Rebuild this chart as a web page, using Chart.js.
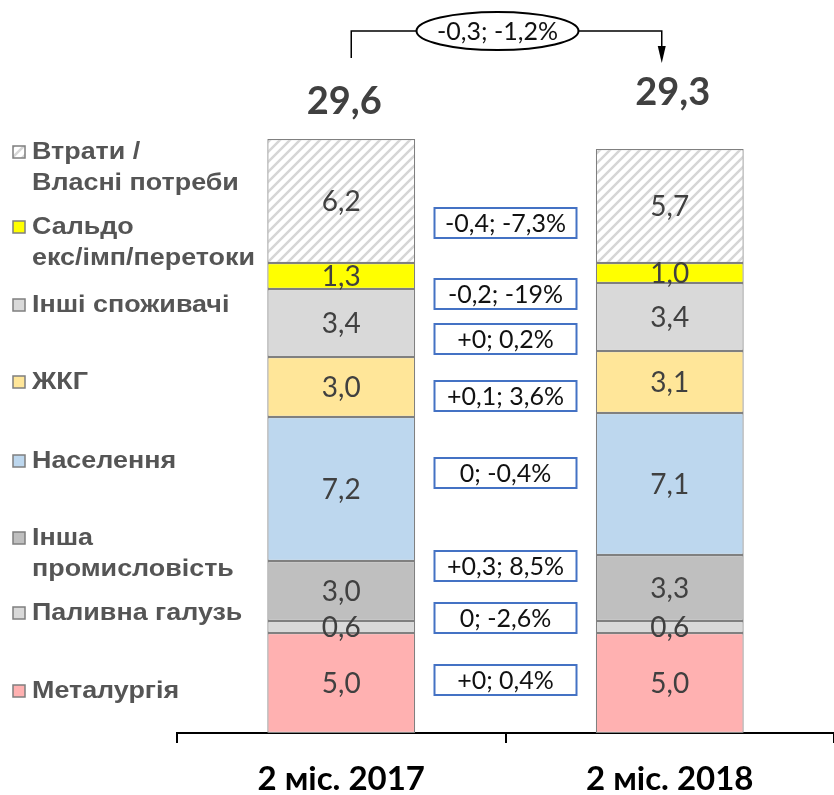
<!DOCTYPE html>
<html>
<head>
<meta charset="utf-8">
<script src="https://cdn.jsdelivr.net/npm/chart.js@4.4.0/dist/chart.umd.min.js"></script>
<style>
    html, body { margin: 0; padding: 0; background: #fff; }
</style>
</head>
<body>
<canvas id="balance" width="834" height="795"></canvas>
<script>
// періоди
const periods = ['2 міс. 2017', '2 міс. 2018'];

// споживання по секторах, млрд кВт·год
const metallurgy = [5.0, 5.0];
const fuelIndustry = [0.6, 0.6];
const otherIndustry = [3.0, 3.3];
const population = [7.2, 7.1];
const housing = [3.0, 3.1];
const otherConsumers = [3.4, 3.4];
const exportSaldo = [1.3, 1.0];
const losses = [6.2, 5.7];

const totals = [29.6, 29.3];
const totalChange = '-0,3; -1,2%';

// зміни по секторах (знизу вгору)
const changes = ['+0; 0,4%', '0; -2,6%', '+0,3; 8,5%', '0; -0,4%', '+0,1; 3,6%', '+0; 0,2%', '-0,2; -19%', '-0,4; -7,3%'];

// підписи легенди (знизу вгору)
const legendLines = [
    ['Металургія'],
    ['Паливна галузь'],
    ['Інша', 'промисловість'],
    ['Населення'],
    ['ЖКГ'],
    ['Інші споживачі'],
    ['Сальдо', 'екс/імп/перетоки'],
    ['Втрати /', 'Власні потреби']
];

// розміщення (пікселі)
const legendY = [691, 613, 538, 461, 382, 305, 227, 152];
const boxY = [680, 618, 566, 473, 396, 339, 294, 223];
const totalsY = [102, 93];

function hatch() {
    const c = document.createElement('canvas');
    c.width = 10; c.height = 10;
    const g = c.getContext('2d');
    g.fillStyle = '#fff';
    g.fillRect(0, 0, 10, 10);
    g.strokeStyle = '#d6d6d6';
    g.lineWidth = 2.5;
    g.beginPath();
    g.moveTo(-1, 11); g.lineTo(11, -1);
    g.moveTo(-6, 6); g.lineTo(6, -6);
    g.moveTo(4, 16); g.lineTo(16, 4);
    g.stroke();
    return g.createPattern(c, 'repeat');
}

const fmt = v => v.toFixed(1).replace('.', ',');

const series = [
    { label: 'Металургія', data: metallurgy, color: '#ffb1b1' },
    { label: 'Паливна галузь', data: fuelIndustry, color: '#d9d9d9' },
    { label: 'Інша промисловість', data: otherIndustry, color: '#bfbfbf' },
    { label: 'Населення', data: population, color: '#bdd7ee' },
    { label: 'ЖКГ', data: housing, color: '#ffe699' },
    { label: 'Інші споживачі', data: otherConsumers, color: '#d9d9d9' },
    { label: 'Сальдо екс/імп/перетоки', data: exportSaldo, color: '#ffff00' },
    { label: 'Втрати / Власні потреби', data: losses, color: hatch() }
];

// підписи значень, легенда, рамки змін, підсумки
const overlay = {
    id: 'overlay',
    afterDatasetsDraw(chart) {
        const ctx = chart.ctx;
        ctx.save();

        // значення в сегментах
        ctx.font = '28px Lato';
        ctx.fillStyle = '#404040';
        ctx.textAlign = 'center';
        ctx.textBaseline = 'middle';
        chart.data.datasets.forEach((ds, i) => {
            chart.getDatasetMeta(i).data.forEach((bar, j) => {
                ctx.fillText(fmt(ds.data[j]), bar.x, (bar.y + bar.base) / 2 + 1);
            });
        });

        // легенда
        series.forEach((s, i) => {
            const y = legendY[i];
            ctx.fillStyle = s.color;
            ctx.fillRect(13, y - 6, 12, 12);
            ctx.strokeStyle = '#7f7f7f';
            ctx.lineWidth = 1.5;
            ctx.strokeRect(13, y - 6, 12, 12);
            ctx.font = 'bold 24px "Liberation Sans"';
            ctx.fillStyle = '#555';
            ctx.textAlign = 'left';
            legendLines[i].forEach((line, k) => {
                ctx.save();
                ctx.translate(32, y + k * 31);
                ctx.scale(1.12, 1);
                ctx.fillText(line, 0, 0);
                ctx.restore();
            });
        });

        // рамки змін
        const midX = (chart.getDatasetMeta(0).data[0].x + chart.getDatasetMeta(0).data[1].x) / 2;
        ctx.font = '25px Lato';
        ctx.textAlign = 'center';
        changes.forEach((t, i) => {
            ctx.fillStyle = '#fff';
            ctx.fillRect(midX - 71, boxY[i] - 15, 142, 30);
            ctx.strokeStyle = '#4472c4';
            ctx.lineWidth = 2;
            ctx.strokeRect(midX - 71, boxY[i] - 15, 142, 30);
            ctx.fillStyle = '#111';
            ctx.fillText(t, midX, boxY[i] + 1);
        });

        // підсумки
        const bars = chart.getDatasetMeta(0).data;
        ctx.font = 'bold 38px Lato';
        ctx.fillStyle = '#404040';
        totals.forEach((t, j) => {
            ctx.fillText(fmt(t), bars[j].x + 3, totalsY[j]);
        });

        // стрілка зміни
        const x1 = bars[0].x + 10, x2 = bars[1].x - 8;
        const cy = 31, ex = midX - 8;
        ctx.strokeStyle = '#000';
        ctx.lineWidth = 1.5;
        ctx.beginPath();
        ctx.moveTo(x1, 58); ctx.lineTo(x1, cy); ctx.lineTo(ex - 81, cy);
        ctx.moveTo(ex + 81, cy); ctx.lineTo(x2, cy); ctx.lineTo(x2, 50);
        ctx.stroke();
        ctx.beginPath();
        ctx.moveTo(x2 - 4, 46); ctx.lineTo(x2 + 4, 46); ctx.lineTo(x2, 63);
        ctx.closePath();
        ctx.fillStyle = '#000';
        ctx.fill();
        ctx.lineWidth = 2;
        ctx.beginPath();
        ctx.ellipse(ex, cy, 81, 19, 0, 0, Math.PI * 2);
        ctx.fillStyle = '#fff';
        ctx.fill();
        ctx.stroke();
        ctx.font = '25px Lato';
        ctx.fillStyle = '#111';
        ctx.fillText(totalChange, ex, cy + 1);

        ctx.restore();
    }
};

new Chart(document.getElementById('balance'), {
    type: 'bar',
    data: {
        labels: periods,
        datasets: series.map(s => ({
            label: s.label,
            data: s.data,
            backgroundColor: s.color,
            borderColor: '#808080',
            borderWidth: 1.2,
            borderSkipped: false,
            barPercentage: 0.9,
            categoryPercentage: 0.5
        }))
    },
    options: {
        responsive: false,
        animation: false,
        layout: { padding: { left: 177, right: 0, top: 53, bottom: 0 } },
        plugins: {
            legend: { display: false },
            tooltip: { enabled: false }
        },
        scales: {
            x: {
                stacked: true,
                border: { color: '#000', width: 2 },
                grid: { drawOnChartArea: false, drawTicks: true, tickLength: 10, color: '#000', lineWidth: 2 },
                ticks: { color: '#000', font: { family: 'Lato', size: 33, weight: 'bold' }, padding: 17 },
                afterFit(scale) { scale.height = 62; }
            },
            y: {
                stacked: true,
                display: false,
                min: 0,
                max: 34
            }
        }
    },
    plugins: [overlay]
});
</script>
</body>
</html>
